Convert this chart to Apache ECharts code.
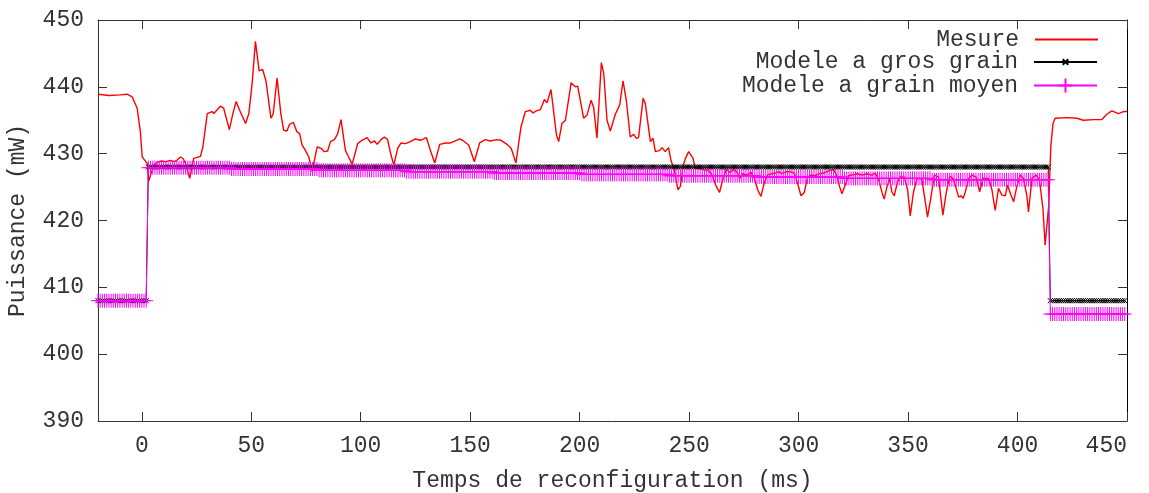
<!DOCTYPE html>
<html>
<head>
<meta charset="utf-8">
<script src="https://cdn.jsdelivr.net/npm/echarts@6/dist/echarts.min.js"></script>
<style>
html,body{margin:0;padding:0;background:#fff;}
#chart{width:1149px;height:493px;}
</style>
</head>
<body>
<div id="chart"></div>
<script>
// ---- Data ----
const xTicks = [0, 50, 100, 150, 200, 250, 300, 350, 400, 450];
const seriesNames = ['Mesure', 'Modele a gros grain', 'Modele a grain moyen'];

// Mesure: time (ms) and power (mW)
const mesureTime = [-20,-15,-10,-6.7,-4.4,-2.1,-0.6,0.2,1.4,2.5,3.2,4.3,5.5,7,9,11,13,15,16,17.7,19,20,21.9,23.7,26.8,27.9,29.9,32.1,32.9,35.9,37.4,40,41.6,43.1,44.7,47.4,48.9,50.4,51.9,53.6,55.2,56.7,59,60,61.8,63.5,64.8,66.3,67.5,69.2,70.8,72.1,73.2,74.7,76.3,77.8,80.1,81.9,83.4,84.9,86.2,88,89.5,91,93,94.5,96.1,98.6,100.6,102.9,104.7,106.3,107.5,109.3,110.8,112.3,113.6,115.1,116.9,118.4,120.4,122.7,125,127.3,130,131.8,133.8,136.1,138.7,141,143.2,145.2,147,149.3,151.9,154.3,156.9,159.2,162,164.1,166.8,168.7,170.9,173.2,175.2,177.5,178.7,180.2,182.1,183.9,185.1,186.9,189.4,190.4,191.9,193.5,196.1,198,199.1,201.8,203.4,205.2,206.4,207.9,209.9,211,212.5,214,216.3,218.3,219.8,221.3,223.1,224.7,225.9,226.9,229,230,232.3,233.5,234.6,236.6,237.6,239.1,240.6,241.7,243.2,244.9,246,247.2,248.3,249.8,251.8,252.8,254.8,256.6,258.9,260.5,262.4,263.9,265.5,267,268.5,270.3,271.9,273.1,274.6,276.4,278.3,279.8,281.3,282.8,284.3,285.8,287.8,289.4,290.9,292.4,294.4,296.2,298,299.5,301.1,302.6,304.1,305.7,307.6,309.6,311.4,313,314.5,316,317.5,318.7,319.8,321.3,322.8,324.4,326.7,329,331.2,333.5,335,336.5,338.1,339.1,340.4,341.6,342.6,343.7,345.2,346.4,348.3,349.8,351,352.5,354.1,356.3,357.4,358.9,360.5,362,363.9,365.9,367.4,369,370.8,373.1,374.2,375.1,376.1,377.6,379.2,381.1,382.7,384.2,386.8,388.3,389.8,391.3,392.9,394.4,395.4,397,398.2,399.7,401.2,402.7,404.3,405,406.6,408.5,410,411.6,412.6,414.2,415.2,416.2,417.2,422.6,427.1,430.1,434.7,438.5,440.8,443.1,446.1,448.4,450];
const mesureValue = [438.9,438.7,438.8,438.9,438.5,436.8,433.1,429.5,429.0,428.5,425.9,427.1,428.3,428.7,428.9,428.8,429.0,428.8,429.0,429.5,429.2,428.5,426.3,429.3,429.6,431.0,436.0,436.3,436.0,437.1,436.8,433.6,436.0,437.8,436.5,434.5,436.0,440.5,446.8,442.4,442.6,440.9,435.3,435.9,441.3,436.0,433.5,433.4,434.4,434.7,433.3,433.0,431.3,430.5,429.5,427.3,431.0,430.8,430.3,430.4,431.8,432.1,433.0,435.1,430.5,429.5,428.4,431.5,432.0,432.4,431.6,431.9,431.4,432.1,432.5,432.1,430.1,428.3,430.8,431.6,431.5,431.8,432.2,432.0,432.4,430.5,428.6,431.4,431.6,431.6,431.9,432.2,431.9,431.3,428.8,431.6,432.1,431.9,432.1,432.0,431.4,430.8,428.6,434.0,436.3,436.5,436.1,436.4,436.6,438.1,437.6,439.6,432.8,431.8,434.5,435.0,440.6,440.0,440.1,435.3,435.8,438.0,436.9,432.3,443.6,442.0,435.0,433.4,435.9,437.3,440.9,438.0,432.5,432.9,432.3,432.4,438.3,437.5,431.8,432.3,430.3,430.5,430.9,430.3,430.9,429.0,427.6,424.6,425.1,428.1,429.3,430.3,429.3,427.8,427.8,427.6,427.5,426.8,425.1,424.2,426.3,427.7,427.2,427.6,427.2,426.3,427.0,426.8,427.2,426.3,424.6,423.6,425.6,426.8,427.0,427.1,427.3,427.0,427.3,427.3,427.1,425.6,423.7,424.2,426.5,426.8,426.7,427.0,427.1,427.3,427.5,427.6,426.7,425.1,424.0,425.3,426.7,426.8,427.0,426.8,427.0,426.8,427.1,426.2,424.2,423.2,425.1,426.2,424.3,423.7,425.8,426.5,426.5,424.6,420.7,424.3,426.3,426.2,423.8,420.5,423.6,426.8,426.5,420.8,424.1,426.6,426.2,423.5,423.7,423.3,424.2,426.2,426.8,426.5,424.3,426.3,426.3,424.6,421.5,424.8,423.8,423.7,425.3,423.8,422.8,425.1,426.8,426.3,423.6,421.3,426.3,426.8,426.1,421.8,416.3,422.1,431.1,434.5,435.3,435.4,435.3,435.0,435.1,435.1,435.9,436.4,436.0,436.3,436.3];

// Models: constant levels per time segment, sampled every 1 ms  [from ms, to ms, level mW]
const coarseSegments = [[-20, 2, 408], [3, 414, 428], [415, 449, 408]];
const mediumSegments = [[-20, 2, 408], [3, 40, 427.9], [41, 80, 427.7], [81, 120, 427.5], [121, 160, 427.3], [161, 200, 427.1], [201, 240, 426.9], [241, 280, 426.7], [281, 320, 426.5], [321, 360, 426.3], [361, 414, 426.1], [415, 449, 406]];

// ---- Build ----
function sampleSegments(segs) {
  const out = [];
  for (const [a, b, v] of segs) for (let t = a; t <= b; t++) out.push([t, v]);
  return out;
}
const mesureData = mesureTime.map((t, i) => [t, mesureValue[i]]);

const FONT = 'Liberation Mono';
const FS = 23;
const TXT = '#333';
const AX = '#333';

const chart = echarts.init(document.getElementById('chart'), null, {renderer: 'canvas'});

function legendBox(name, top, extra) {
  return Object.assign({
    data: [name],
    orient: 'horizontal',
    right: 46,
    top: top,
    align: 'right',
    itemWidth: 63,
    selectedMode: false,
    textStyle: {fontFamily: FONT, fontSize: FS, color: TXT, padding: [0, 11, 0, 0]}
  }, extra);
}

const option = {
  animation: false,
  backgroundColor: '#fff',
  grid: {left: 98, right: 22, top: 20, bottom: 72, containLabel: false, outerBoundsMode: 'none'},
  legend: [
    legendBox(seriesNames[0], 23, {itemHeight: 2, data: [{name: seriesNames[0], icon: 'rect'}]}),
    legendBox(seriesNames[1], 45.5, {itemHeight: 7}),
    legendBox(seriesNames[2], 69, {itemHeight: 17.5})
  ],
  xAxis: [
    {
      type: 'value', min: -20, max: 450, position: 'bottom',
      name: 'Temps de reconfiguration (ms)', nameLocation: 'middle', nameGap: 48,
      nameTextStyle: {fontFamily: FONT, fontSize: FS, color: TXT},
      axisLine: {show: true, onZero: false, lineStyle: {color: AX, width: 1}},
      axisTick: {show: true, inside: true, length: 9, customValues: xTicks, lineStyle: {color: AX}},
      axisLabel: {show: true, customValues: xTicks, margin: 13, fontFamily: FONT, fontSize: FS, color: TXT, alignMaxLabel: 'right'},
      splitLine: {show: false}
    },
    {
      type: 'value', min: -20, max: 450, position: 'top',
      axisLine: {show: true, onZero: false, lineStyle: {color: AX, width: 1}},
      axisTick: {show: true, inside: true, length: 9, customValues: xTicks, lineStyle: {color: AX}},
      axisLabel: {show: false},
      splitLine: {show: false}
    }
  ],
  yAxis: [
    {
      type: 'value', min: 390, max: 450, interval: 10, position: 'left',
      name: 'Puissance (mW)', nameLocation: 'middle', nameGap: 69,
      nameTextStyle: {fontFamily: FONT, fontSize: FS, color: TXT},
      axisLine: {show: true, onZero: false, lineStyle: {color: AX, width: 1}},
      axisTick: {show: true, inside: true, length: 9, lineStyle: {color: AX}},
      axisLabel: {show: true, margin: 14, fontFamily: FONT, fontSize: FS, color: TXT},
      splitLine: {show: false}
    },
    {
      type: 'value', min: 390, max: 450, interval: 10, position: 'right',
      axisLine: {show: true, onZero: false, lineStyle: {color: '#000', width: 1}},
      axisTick: {show: true, inside: true, length: 9, lineStyle: {color: AX}},
      axisLabel: {show: false},
      splitLine: {show: false}
    }
  ],
  series: [
    {
      name: seriesNames[0], type: 'line', xAxisIndex: 0, yAxisIndex: 0,
      data: mesureData, symbol: 'none', smooth: false,
      lineStyle: {color: '#ff0000', width: 1.4},
      itemStyle: {color: '#ff0000'},
      emphasis: {disabled: true}, z: 2
    },
    {
      name: seriesNames[1], type: 'line', xAxisIndex: 0, yAxisIndex: 0,
      data: sampleSegments(coarseSegments),
      symbol: 'path://M0,0L10,10M10,0L0,10', symbolSize: 5, showSymbol: true,
      lineStyle: {color: '#000', width: 1},
      itemStyle: {color: 'rgba(0,0,0,0)', borderColor: '#000', borderWidth: 1},
      emphasis: {disabled: true}, z: 3
    },
    {
      name: seriesNames[2], type: 'line', xAxisIndex: 0, yAxisIndex: 0,
      data: sampleSegments(mediumSegments),
      symbol: 'path://M5,0L5,10M0,5L10,5', symbolSize: 14, showSymbol: true,
      lineStyle: {color: '#ff00ff', width: 1},
      itemStyle: {color: 'rgba(0,0,0,0)', borderColor: '#ff00ff', borderWidth: 1},
      emphasis: {disabled: true}, z: 4
    }
  ]
};
chart.setOption(option);
</script>
</body>
</html>
